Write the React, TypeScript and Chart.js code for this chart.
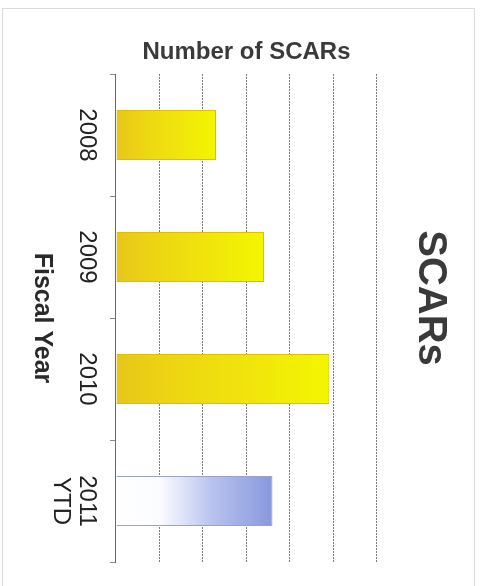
import React, { useEffect, useRef } from "react";
import { Chart, registerables } from "chart.js";

Chart.register(...registerables);

// ---- data ----
const categories: (string | string[])[] = ["2008", "2009", "2010", ["2011", "YTD"]];
const scarCounts: number[] = [23, 34, 49, 36];
const valueTicks: number[] = [0, 10, 20, 30, 40, 50, 60];
const chartTitle = "SCARs";
const valueAxisTitle = "Number of SCARs";
const categoryAxisTitle = "Fiscal Year";

// ---- styles ----
const FONT = "'Liberation Sans', Arial, Helvetica, sans-serif";
const yellowStops: [number, string][] = [
  [0, "#e6c61a"],
  [0.2, "#ecd214"],
  [0.6, "#f0e40c"],
  [1, "#f3f600"],
];
const blueStops: [number, string][] = [
  [0, "#ffffff"],
  [0.28, "#fbfcff"],
  [0.62, "#b7c2ee"],
  [1, "#8898de"],
];

export default function App() {
  const canvasRef = useRef<HTMLCanvasElement | null>(null);

  useEffect(() => {
    const canvas = canvasRef.current;
    if (!canvas) return;

    const makeFill = (context: any) => {
      const chart = context.chart;
      const area = chart.chartArea;
      const isBlue = context.dataIndex === categories.length - 1;
      if (!area || context.type !== "data" || !chart.scales.y) {
        return isBlue ? "#b7c2ee" : "#efe30c";
      }
      const y = chart.scales.y;
      const base = y.getPixelForValue(0);
      const top = y.getPixelForValue(context.raw as number);
      const g = chart.ctx.createLinearGradient(0, base, 0, top === base ? base - 1 : top);
      (isBlue ? blueStops : yellowStops).forEach(([o, c]) => g.addColorStop(o, c));
      return g;
    };

    const chart = new Chart(canvas, {
      type: "bar",
      data: {
        labels: categories,
        datasets: [
          {
            label: valueAxisTitle,
            data: scarCounts,
            backgroundColor: makeFill,
            borderColor: scarCounts.map((_, i) =>
              i === categories.length - 1 ? "#9aa2cc" : "#dcc000"
            ),
            borderWidth: 1,
            barPercentage: 0.41,
            categoryPercentage: 1,
          },
        ],
      },
      options: {
        responsive: false,
        animation: false,
        events: [],
        layout: { padding: { left: 34, right: 24, top: 0, bottom: 0 } },
        plugins: {
          legend: { display: false },
          tooltip: { enabled: false },
          title: {
            display: true,
            text: chartTitle,
            color: "#3a3a3a",
            font: { family: FONT, size: 40, weight: "bold", lineHeight: 1.2 },
            padding: { top: 28, bottom: 29 },
          },
        },
        scales: {
          x: {
            type: "category",
            offset: true,
            afterFit: (scale: any) => {
              scale.height = 116;
            },
            grid: {
              offset: true,
              drawOnChartArea: false,
              drawTicks: true,
              tickLength: 6,
              color: "#8a8a8a",
              tickColor: "#8a8a8a",
            },
            border: { display: true, color: "#6a6a6a", width: 1, dash: [2, 1] },
            ticks: {
              color: "#222",
              font: { family: FONT, size: 24, lineHeight: 1.1 },
              padding: 10,
              maxRotation: 0,
              minRotation: 0,
              autoSkip: false,
            },
            title: {
              display: true,
              text: categoryAxisTitle,
              color: "#2a2a2a",
              font: { family: FONT, size: 25, weight: "bold", lineHeight: 1.2 },
              padding: { top: 0, bottom: 27 },
            },
          },
          y: {
            min: valueTicks[0],
            max: valueTicks[valueTicks.length - 1],
            afterFit: (scale: any) => {
              scale.width = 40;
            },
            afterBuildTicks: (scale: any) => {
              scale.ticks = valueTicks.map((v) => ({ value: v }));
            },
            grid: {
              drawTicks: false,
              color: "rgba(80,80,80,0.75)",
              lineWidth: 1,
            },
            border: { display: false, dash: [2, 1] },
            ticks: { display: false },
            title: {
              display: true,
              text: valueAxisTitle,
              color: "#3a3a3a",
              font: { family: FONT, size: 24, weight: "bold", lineHeight: 1.2 },
              padding: { top: 3.6, bottom: 7.6 },
            },
          },
        },
      },
    });

    return () => chart.destroy();
  }, []);

  return (
    <div
      style={{
        position: "fixed",
        left: 0,
        top: 0,
        width: 482,
        height: 586,
        background: "#ffffff",
        overflow: "hidden",
      }}
    >
      <div
        style={{
          position: "absolute",
          left: 2,
          top: 8,
          width: 473,
          height: 600,
          border: "1px solid #dcdcdc",
          boxSizing: "border-box",
        }}
      />
      <div
        style={{
          position: "absolute",
          left: 0,
          top: 0,
          width: 586,
          height: 482,
          transformOrigin: "0 0",
          transform: "translateX(482px) rotate(90deg)",
        }}
      >
        <canvas ref={canvasRef} width={586} height={482} style={{ display: "block" }} />
      </div>
    </div>
  );
}
